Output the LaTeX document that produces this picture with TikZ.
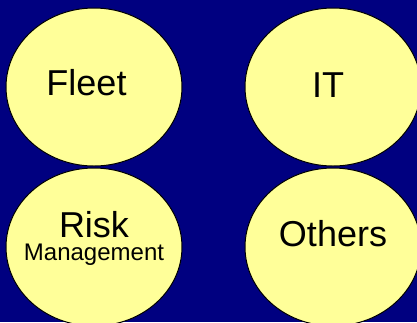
\documentclass[tikz,border=0pt]{standalone}
\usepackage{fontspec}
\setmainfont{Liberation Sans}
\usetikzlibrary{shapes.geometric}
\definecolor{navybg}{RGB}{0,0,128}
\definecolor{paleyellow}{RGB}{255,255,153}
\tikzset{
  bubble/.style={ellipse, draw=black, line width=1pt, fill=paleyellow,
    minimum width=176pt, minimum height=158pt, inner sep=0pt},
  bigtext/.style={anchor=base, inner sep=0pt, font=\fontsize{36}{40}\selectfont},
  twoline/.style={anchor=north, inner sep=0pt, align=center, font=\fontsize{36}{23}\selectfont}
}
\begin{document}
\begin{tikzpicture}[x=1pt,y=-1pt]
\useasboundingbox (0,0) rectangle (417,322);
\clip (0,0) rectangle (417,322);
\fill[navybg] (0,0) rectangle (417,322);
\node[bubble] (fleet) at (94,87) {};
\node[bubble] (it) at (333,87) {};
\node[bubble] (risk) at (94,247) {};
\node[bubble] (others) at (333,247) {};
\node[bigtext] (fleetlabel) at (86.5,95) {Fleet};
\node[bigtext] (itlabel) at (328,97) {IT};
\node[twoline] (risklabel) at (94,211.5) {\rule{0pt}{25.8pt}Risk\\{\fontsize{24}{23}\selectfont Management}};
\node[bigtext] (otherslabel) at (333,246) {Others};
\end{tikzpicture}
\end{document}
